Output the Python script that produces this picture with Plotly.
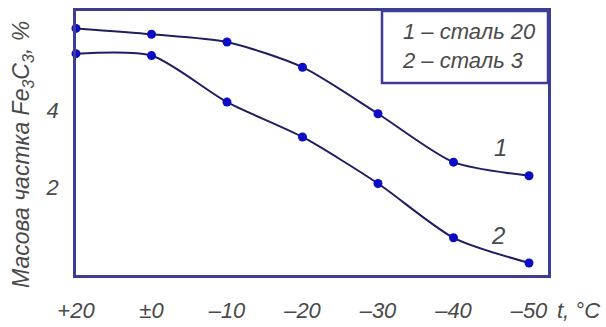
import plotly.graph_objects as go

# Data
temp_labels = ["+20", "±0", "–10", "–20", "–30", "–40", "–50"]
steel20 = [6.1, 5.95, 5.75, 5.1, 3.9, 2.65, 2.3]
steel3 = [5.45, 5.4, 4.2, 3.3, 2.1, 0.7, 0.05]
y_ticks = [2, 4]
legend_lines = ["1 – сталь 20", "2 – сталь 3"]
curve_names = ["1", "2"]

pos = list(range(len(temp_labels)))

FONT = "Liberation Sans, Arial, sans-serif"
TXT = "#4a4a4a"
LINE = "#1e1e60"
MARK = "#0c0cc4"
FRAME = "#3d3d96"

fig = go.Figure()
for ys in (steel20, steel3):
    fig.add_trace(go.Scatter(
        x=pos, y=ys, mode="lines+markers",
        line=dict(color=LINE, width=2, shape="spline", smoothing=0.7),
        marker=dict(color=MARK, size=9),
        cliponaxis=False, showlegend=False, hoverinfo="skip"))

fig.update_layout(
    width=606, height=327,
    margin=dict(l=76, r=58, t=11, b=52, autoexpand=False),
    paper_bgcolor="white", plot_bgcolor="white",
    font=dict(family=FONT, color=TXT, size=22, style="italic"),
)
fig.update_xaxes(
    range=[0, (548 - 76) / 75.5], automargin=False,
    tickmode="array", tickvals=pos, ticktext=temp_labels,
    tickfont=dict(family=FONT, size=22, color=TXT, style="italic"),
    ticks="", ticklabelstandoff=14,
    showgrid=False, zeroline=False,
    showline=True, mirror=True, linecolor=FRAME, linewidth=2.5,
)
fig.update_yaxes(
    range=[-0.26, 6.55], automargin=False,
    tickmode="array", tickvals=y_ticks, ticktext=[str(v) for v in y_ticks],
    tickfont=dict(family=FONT, size=22, color=TXT, style="italic"),
    ticks="", ticklabelstandoff=10,
    showgrid=False, zeroline=False,
    showline=True, mirror=True, linecolor=FRAME, linewidth=2.5,
)

# legend box
fig.add_shape(type="rect", xref="paper", yref="paper",
              x0=(382 - 76) / 472, x1=1.0, y0=(275 - 83) / 264, y1=1.0,
              line=dict(color=FRAME, width=2.5), fillcolor="rgba(0,0,0,0)")
fig.add_annotation(xref="paper", yref="paper",
                   x=(400 - 76) / 472, y=(275 - 46) / 264,
                   xanchor="left", yanchor="middle", align="left",
                   text="<br>".join(legend_lines), showarrow=False,
                   font=dict(family=FONT, size=22, color=TXT, style="italic"))

# curve labels
fig.add_annotation(x=5.62, y=3.02, text=curve_names[0], showarrow=False,
                   font=dict(family=FONT, size=24, color=TXT, style="italic"))
fig.add_annotation(x=5.59, y=0.77, text=curve_names[1], showarrow=False,
                   font=dict(family=FONT, size=24, color=TXT, style="italic"))

# y title
fig.add_annotation(xref="paper", yref="paper", x=(22 - 76) / 472, y=(275 - 155) / 264,
                   xanchor="center", yanchor="middle", textangle=-90,
                   text="Масова частка Fe<sub>3</sub>C<sub>3</sub>, %", showarrow=False,
                   font=dict(family=FONT, size=23, color=TXT, style="italic"))
# x title
fig.add_annotation(xref="paper", yref="paper", x=(578 - 76) / 472, y=(275 - 310) / 264,
                   xanchor="center", yanchor="middle",
                   text="t, °C", showarrow=False,
                   font=dict(family=FONT, size=22, color=TXT, style="italic"))

fig.write_html("out.html", config={"displayModeBar": False},
               post_script="document.body.style.margin='0';")
